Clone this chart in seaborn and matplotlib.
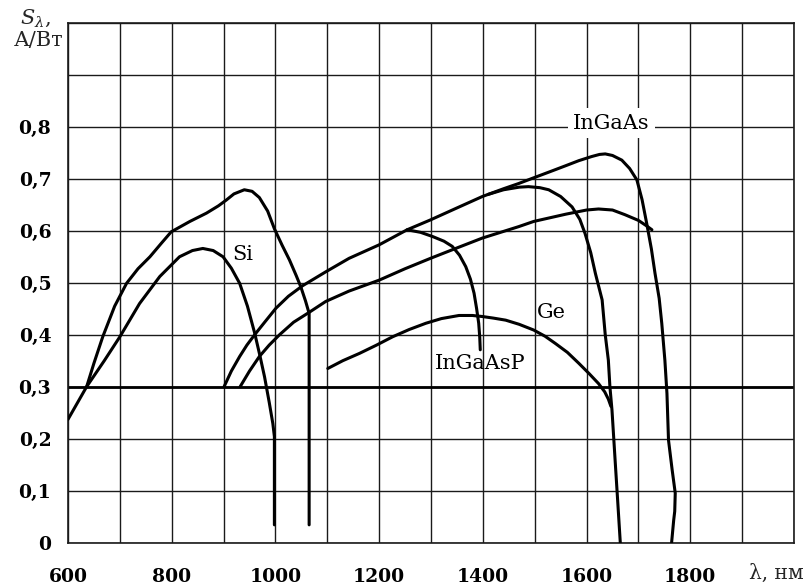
import numpy as np
import pandas as pd
import seaborn as sns
import matplotlib as mpl
from matplotlib import pyplot as plt
from matplotlib.transforms import blended_transform_factory

# curves: wavelength (nm) and S (A/W)
si_big_x = [636, 650, 667, 690, 713, 735, 758, 780, 799, 835, 867, 890, 905, 920, 940, 955, 969,
            985, 998, 1013, 1027, 1040, 1049, 1058, 1065, 1065]
si_big_y = [0.30, 0.345, 0.396, 0.455, 0.499, 0.527, 0.55, 0.576, 0.598, 0.618, 0.634, 0.648, 0.659,
            0.671, 0.679, 0.676, 0.664, 0.638, 0.604, 0.572, 0.544, 0.514, 0.492, 0.465, 0.441, 0.034]

si_x = [600, 636, 670, 700, 738, 777, 815, 840, 860, 880, 899, 915, 931, 946, 960, 970, 979, 988,
        995, 998, 998]
si_y = [0.237, 0.30, 0.35, 0.396, 0.46, 0.512, 0.55, 0.562, 0.566, 0.562, 0.55, 0.528, 0.499, 0.455,
        0.403, 0.36, 0.319, 0.27, 0.229, 0.204, 0.034]

ingaas_x = [901, 915, 931, 945, 960, 980, 1001, 1025, 1052, 1097, 1142, 1200, 1254, 1299, 1350,
            1399, 1440, 1469, 1498, 1530, 1559, 1585, 1610, 1625, 1636, 1650, 1668, 1683, 1697,
            1707, 1716, 1725, 1732, 1740, 1745, 1751, 1755, 1758, 1765, 1771, 1770, 1768, 1764]
ingaas_y = [0.30, 0.33, 0.358, 0.38, 0.40, 0.425, 0.451, 0.474, 0.494, 0.521, 0.547, 0.573, 0.602,
            0.621, 0.644, 0.666, 0.681, 0.691, 0.702, 0.714, 0.725, 0.735, 0.743, 0.747, 0.748,
            0.745, 0.736, 0.72, 0.698, 0.66, 0.614, 0.565, 0.518, 0.47, 0.422, 0.351, 0.287,
            0.197, 0.14, 0.095, 0.06, 0.043, 0.0]

ingaas2_x = [932, 950, 969, 988, 1008, 1035, 1065, 1097, 1142, 1200, 1250, 1299, 1350, 1399, 1469,
             1498, 1560, 1600, 1623, 1650, 1674, 1700, 1715, 1726]
ingaas2_y = [0.30, 0.33, 0.358, 0.38, 0.40, 0.424, 0.443, 0.464, 0.484, 0.505, 0.527, 0.547, 0.567,
             0.586, 0.608, 0.618, 0.632, 0.640, 0.642, 0.640, 0.631, 0.62, 0.61, 0.602]

ingaas3_x = [1410, 1440, 1470, 1488, 1510, 1527, 1550, 1572, 1587, 1597, 1608, 1617, 1630, 1636,
             1642, 1645, 1649, 1655, 1660, 1665]
ingaas3_y = [0.670, 0.679, 0.684, 0.685, 0.683, 0.679, 0.666, 0.646, 0.622, 0.595, 0.558, 0.518,
             0.467, 0.40, 0.351, 0.30, 0.255, 0.159, 0.08, 0.0]

ingaasp_x = [1254, 1280, 1303, 1325, 1341, 1355, 1367, 1376, 1383, 1388, 1392, 1394, 1395]
ingaasp_y = [0.602, 0.597, 0.589, 0.58, 0.57, 0.553, 0.531, 0.507, 0.48, 0.45, 0.422, 0.395, 0.371]

ge_x = [1101, 1130, 1162, 1195, 1226, 1258, 1290, 1320, 1354, 1380, 1399, 1420, 1444, 1470, 1498,
        1520, 1540, 1563, 1585, 1605, 1623, 1635, 1642, 1647]
ge_y = [0.335, 0.35, 0.364, 0.38, 0.396, 0.41, 0.422, 0.431, 0.437, 0.437, 0.435, 0.432, 0.428,
        0.42, 0.409, 0.397, 0.383, 0.366, 0.345, 0.325, 0.306, 0.29, 0.276, 0.262]

curves = [(si_big_x, si_big_y), (si_x, si_y), (ingaas_x, ingaas_y), (ingaas2_x, ingaas2_y),
          (ingaas3_x, ingaas3_y), (ingaasp_x, ingaasp_y), (ge_x, ge_y)]

labels = ["Si", "InGaAs", "InGaAsP", "Ge"]
label_x = [937, 1648, 1394, 1533]
label_y = [0.555, 0.807, 0.345, 0.442]

x_ticks = [600, 800, 1000, 1200, 1400, 1600, 1800]
y_ticks = [0, 0.1, 0.2, 0.3, 0.4, 0.5, 0.6, 0.7, 0.8]
y_tick_labels = ["0", "0,1", "0,2", "0,3", "0,4", "0,5", "0,6", "0,7", "0,8"]

sns.set_theme(style="white")
plt.rcParams['font.family'] = ['DejaVu Serif']
plt.rcParams['mathtext.fontset'] = 'dejavuserif'

fig = plt.figure(figsize=(8.07, 5.86), dpi=100)
ax = fig.add_axes([68 / 807, 43.5 / 586, 726 / 807, 519.5 / 586])

# grid
for gx in range(600, 2001, 100):
    ax.axvline(gx, color="#1a1a1a", lw=1.0, zorder=1)
for gy in np.arange(0, 1.01, 0.1):
    ax.axhline(gy, color="#1a1a1a", lw=1.0, zorder=1)
ax.axhline(0.3, color="black", lw=2.0, zorder=2)

for cx, cy in curves:
    df = pd.DataFrame({"x": cx, "y": cy})
    sns.lineplot(data=df, x="x", y="y", sort=False, estimator=None, color="black", lw=2.2, ax=ax, zorder=3)

for t, lx, ly in zip(labels, label_x, label_y):
    bb = dict(facecolor="white", edgecolor="none", pad=4) if t == "InGaAs" else None
    ax.text(lx, ly, t, ha="center", va="center", fontsize=15, color="black", bbox=bb, zorder=4)

ax.set_xlim(600, 2000)
ax.set_ylim(0, 1.0)
ax.set_xticks(x_ticks)
ax.set_xticklabels([str(v) for v in x_ticks], fontsize=13.5, fontweight="bold")
ax.set_yticks(y_ticks)
ax.set_yticklabels(y_tick_labels, fontsize=13.5, fontweight="bold")
ax.tick_params(axis="x", length=0, pad=18, colors="black")
ax.tick_params(axis="y", length=0, pad=12, colors="black")
ax.set_xlabel("")
ax.set_ylabel("")
for s in ax.spines.values():
    s.set_color("#1a1a1a")
    s.set_linewidth(1.2)

trans = blended_transform_factory(fig.transFigure, ax.transAxes)
ax.text(804 / 807, -0.059, "λ, нм", transform=trans, ha="right", va="center", fontsize=14.5)

fig.text(51 / 807, 1 - 18 / 586, r"$S_\lambda$,", ha="right", va="center", fontsize=15)
fig.text(63 / 807, 1 - 41 / 586, "А/Вт", ha="right", va="center", fontsize=15)

plt.savefig("out.png", dpi=100)
